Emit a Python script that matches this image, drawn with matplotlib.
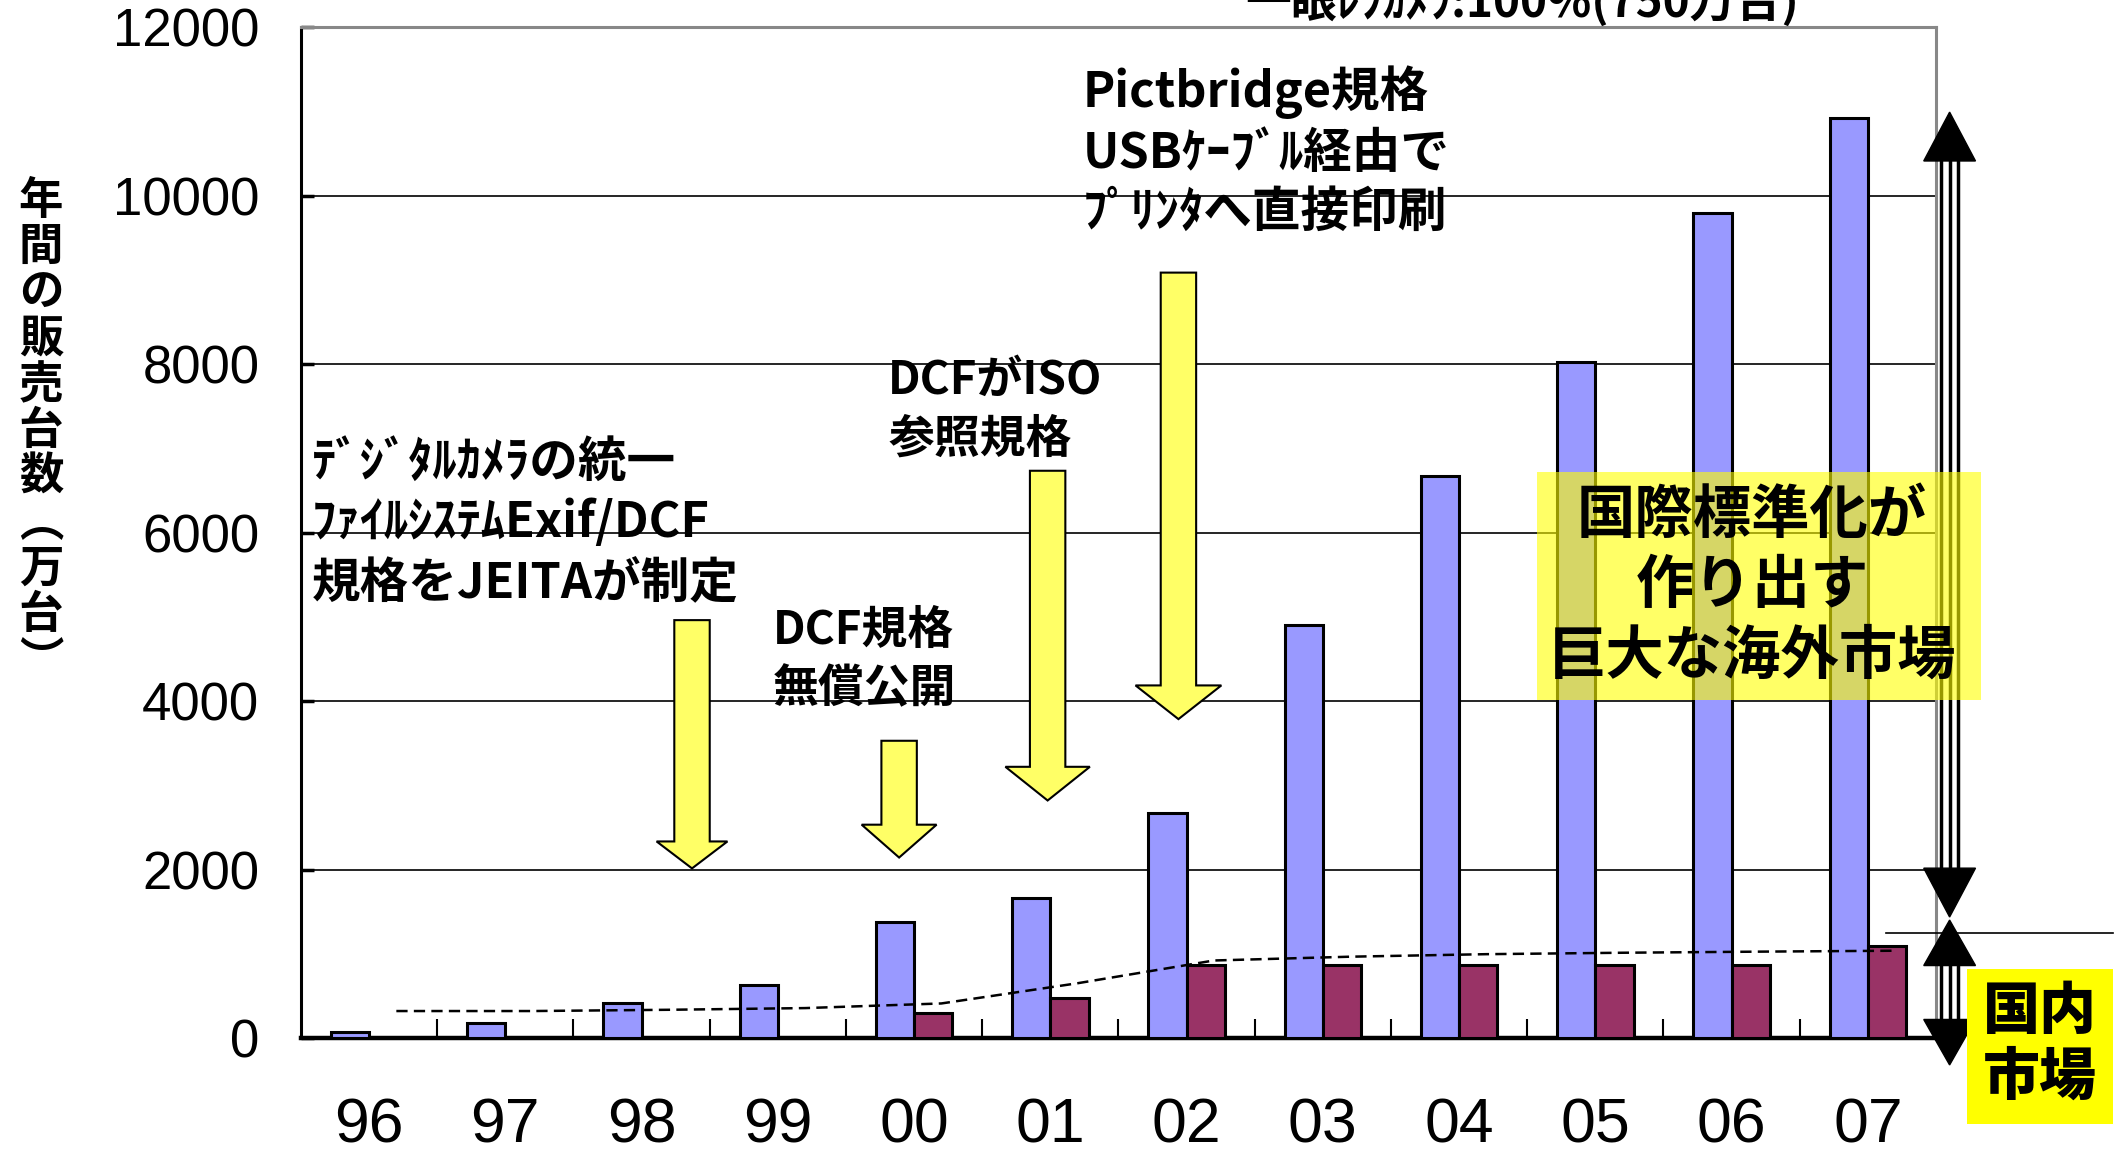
import matplotlib.pyplot as plt
import matplotlib.patches as mpatches
import numpy as np

# --- data (万台) ---
years = ['96', '97', '98', '99', '00', '01', '02', '03', '04', '05', '06', '07']
total = [70, 180, 410, 635, 1375, 1660, 2670, 4900, 6670, 8020, 9790, 10920]
domestic = [0, 0, 0, 0, 295, 470, 868, 868, 868, 868, 868, 1096]
trend = [320, 320, 335, 355, 410, 650, 920, 965, 995, 1012, 1025, 1036]
yticks = [0, 2000, 4000, 6000, 8000, 10000, 12000]

jp = ['Noto Sans CJK JP', 'DejaVu Sans']

fig = plt.figure(figsize=(21.27, 11.55), dpi=100)
ax = fig.add_axes([0.1415, 0.1013, 0.7687, 0.8753])

x = np.arange(len(years))
w = 0.28
total = np.array(total)
domestic = np.array(domestic)

ax.bar(x - w, total, width=w, align='edge', color='#9999ff',
       edgecolor='black', linewidth=2.2, zorder=3)
m = domestic > 0
ax.bar(x[m], domestic[m], width=w, align='edge', color='#993366',
       edgecolor='black', linewidth=2.2, zorder=3)
ax.plot(x + 0.2, trend, color='black', lw=1.8, linestyle=(0, (4.5, 2.5)), zorder=4)

ax.set_xlim(-0.5, 11.5)
ax.set_ylim(0, 12000)
ax.set_yticks(yticks)
ax.set_yticklabels([str(v) for v in yticks], family='Liberation Sans', fontsize=38)
ax.set_xticks(x)
ax.set_xticklabels(years, family='Liberation Sans', fontsize=45)
ax.set_xticks(x[:-1] + 0.5, minor=True)
ax.tick_params(axis='x', which='major', length=0, pad=42)
ax.tick_params(axis='x', which='minor', direction='in', length=14, width=1.5)
ax.tick_params(axis='y', direction='in', length=9, width=2.5, pad=30)
ax.grid(axis='y', color='black', lw=1.2, zorder=1)
ax.set_axisbelow(True)

ax.spines['left'].set_linewidth(2.2)
ax.spines['bottom'].set_linewidth(3.2)
for s in ['top', 'right']:
    ax.spines[s].set_color('#888888')
    ax.spines[s].set_linewidth(2.2)

# yellow event arrows
for ax_x, top, tip, hl, hw in [(2.37, 4960, 2013, 320, 0.52),
                               (3.89, 3528, 2142, 390, 0.55),
                               (4.98, 6733, 2819, 400, 0.62),
                               (5.94, 9085, 3785, 400, 0.63)]:
    arr = mpatches.FancyArrow(ax_x, top, 0, tip - top, width=0.26, head_width=hw,
                              head_length=hl, length_includes_head=True,
                              facecolor='#ffff66', edgecolor='black', lw=1.5, zorder=5)
    ax.add_patch(arr)

ax.text(-0.42, 6113, 'ﾃﾞｼﾞﾀﾙｶﾒﾗの統一\nﾌｧｲﾙｼｽﾃﾑExif/DCF\n規格をJEITAが制定',
        family=jp, fontsize=35, fontweight='bold', ha='left', va='center',
        linespacing=1.3, zorder=6)
ax.text(2.96, 4487, 'DCF規格\n無償公開', family=jp, fontsize=33, fontweight='bold',
        ha='left', va='center', linespacing=1.35, zorder=6)
ax.text(3.81, 7454, 'DCFがISO\n参照規格', family=jp, fontsize=33, fontweight='bold',
        ha='left', va='center', linespacing=1.35, zorder=6)
ax.text(5.24, 10528, 'Pictbridge規格\nUSBｹｰﾌﾞﾙ経由で\nﾌﾟﾘﾝﾀへ直接印刷', family=jp,
        fontsize=35, fontweight='bold', ha='left', va='center', linespacing=1.25, zorder=6)

# right side double arrows
def dbl_arrow(xc, top, bottom, hw=0.19, hl=580):
    for off in (-0.06, 0.0, 0.06):
        ax.plot([xc + off, xc + off], [bottom + hl, top - hl], color='black',
                lw=2.5, clip_on=False, zorder=6)
    ax.fill([xc - hw, xc + hw, xc], [top - hl, top - hl, top], color='black',
            clip_on=False, zorder=6)
    ax.fill([xc - hw, xc + hw, xc], [bottom + hl, bottom + hl, bottom], color='black',
            clip_on=False, zorder=6)

dbl_arrow(11.6, 10990, 1436)
dbl_arrow(11.6, 1400, -320, hl=540)
ax.plot([11.13, 12.8], [1246, 1246], color='black', lw=1.2, clip_on=False, zorder=6)

# yellow boxes
ax.add_patch(mpatches.Rectangle((8.57, 4010), 3.26, 2710, facecolor='#ffff00',
                                alpha=0.6, edgecolor='none', clip_on=False, zorder=7))
ax.text(10.15, 5365, '国際標準化が\n作り出す\n巨大な海外市場', family=jp, fontsize=42,
        fontweight='bold', ha='center', va='center', linespacing=1.22, zorder=8)
ax.add_patch(mpatches.Rectangle((11.73, -1015), 1.07, 1836, facecolor='#ffff00',
                                edgecolor='none', clip_on=False, zorder=7))
ax.text(12.26, -90, '国内\n市場', family=jp, fontsize=41, fontweight='heavy',
        ha='center', va='center', linespacing=1.2, zorder=8)

# header text cut off at the top
fig.text(1522 / 2127, 1 - 17 / 1155, '一眼ﾚﾌｶﾒﾗ:100%(750万台)', family=jp, fontsize=33,
         fontweight='bold', ha='center', va='baseline')

# vertical y label
fig.text(41 / 2127, 1 - 431 / 1155, '\n'.join('年間の販売台数︵万台︶'), family=jp,
         fontsize=32, fontweight='bold', ha='center', va='center', linespacing=1.0)

fig.savefig('out.png', dpi=100)
